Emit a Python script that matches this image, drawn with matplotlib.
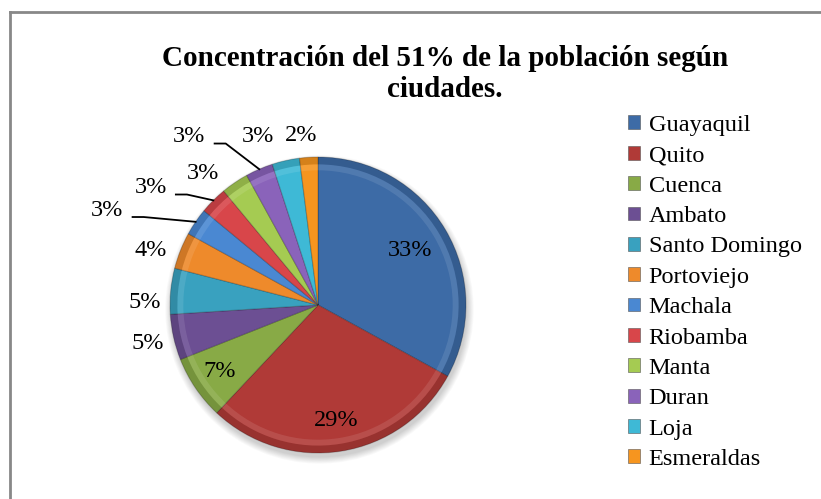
import numpy as np
import matplotlib.pyplot as plt
from matplotlib.patches import Patch, Circle
from matplotlib.lines import Line2D

plt.rcParams['font.family'] = 'Liberation Serif'

# datos
ciudades = ['Guayaquil', 'Quito', 'Cuenca', 'Ambato', 'Santo Domingo', 'Portoviejo',
            'Machala', 'Riobamba', 'Manta', 'Duran', 'Loja', 'Esmeraldas']
porcentajes = [33, 29, 7, 5, 5, 4, 3, 3, 3, 3, 3, 2]

colores = ['#3D6BA6', '#B03A37', '#88AA46', '#6C4F93', '#39A1BF', '#EE8A2B',
           '#4A88D2', '#D8464A', '#A5CB52', '#8A63BA', '#3EB9D6', '#F6951F']

# posición de etiquetas (radio y desplazamiento angular, estilo)
lbl_r = [0.72, 0.79, 0.80, 1.18, 1.17, 1.19, 1.56, 1.38, 1.18, 1.43, 1.21, 1.15]
lbl_dang = [0, 0, 0, 0, 4.7, 3.5, 10, 10, 7, 14, 7, 2]
con_guia = [False] * 6 + [True, True, False, True, False, False]

W, H = 821, 499
fig = plt.figure(figsize=(W / 100, H / 100), dpi=100)

# centro del pastel en píxeles y escala
cx, cy, escala = 318, 305, 148
x0, x1, ytop, ybot = 10, 600, 125, 470
ax = fig.add_axes([x0 / W, (H - ybot) / H, (x1 - x0) / W, (ybot - ytop) / H])

# sombra suave
for k in range(8):
    ax.add_patch(Circle((0.01, -0.03), 1.0 + 0.006 * k, color='black',
                        alpha=0.025, zorder=0, lw=0))

wedges, _ = ax.pie(porcentajes, colors=colores, startangle=90, counterclock=False,
                   radius=1.0, wedgeprops=dict(edgecolor='#00000033', linewidth=0.8))
# borde biselado
ax.pie(porcentajes, colors=['none'] * len(porcentajes), startangle=90, counterclock=False,
       radius=1.0, wedgeprops=dict(width=0.05, facecolor='#00000022', edgecolor='none'))
ax.pie(porcentajes, colors=['none'] * len(porcentajes), startangle=90, counterclock=False,
       radius=0.95, wedgeprops=dict(width=0.04, facecolor='#FFFFFF1A', edgecolor='none'))

for i, w in enumerate(wedges):
    mid = np.deg2rad((w.theta1 + w.theta2) / 2)
    ang = mid + np.deg2rad(lbl_dang[i])
    lx, ly = lbl_r[i] * np.cos(ang), lbl_r[i] * np.sin(ang)
    ax.text(lx, ly, f'{porcentajes[i]}%', ha='center', va='center', fontsize=17.5, zorder=5)
    if con_guia[i]:
        px, py = np.cos(mid), np.sin(mid)
        sx, sy = lx + 0.17, ly - 0.045
        ax.plot([sx, sx + 0.075, px], [sy, sy, py], color='black', lw=1.3, zorder=5)

ax.set_xlim((x0 - cx) / escala, (x1 - cx) / escala)
ax.set_ylim((cy - ybot) / escala, (cy - ytop) / escala)
ax.set_aspect('auto')
ax.axis('off')

# título
fig.text(445 / W, 1 - 74 / H, 'Concentración del 51% de la población según\nciudades.',
         ha='center', va='center', fontsize=21, fontweight='bold', linespacing=1.15)

# leyenda
handles = [Patch(facecolor=c, edgecolor='#555555', linewidth=0.4) for c in colores]
fig.legend(handles, ciudades, loc='upper left', bbox_to_anchor=(628 / W, 1 - 115 / H),
           frameon=False, fontsize=17.5, handlelength=0.5, handleheight=0.5,
           handletextpad=0.35, labelspacing=0.385, borderpad=0, borderaxespad=0)

# marco del gráfico
fig.add_artist(Line2D([10 / W, 10 / W], [0, 1 - 12 / H], color='#888888', lw=2))
fig.add_artist(Line2D([10 / W, 1], [1 - 12 / H, 1 - 12 / H], color='#888888', lw=2))

fig.savefig('out.png', dpi=100)
